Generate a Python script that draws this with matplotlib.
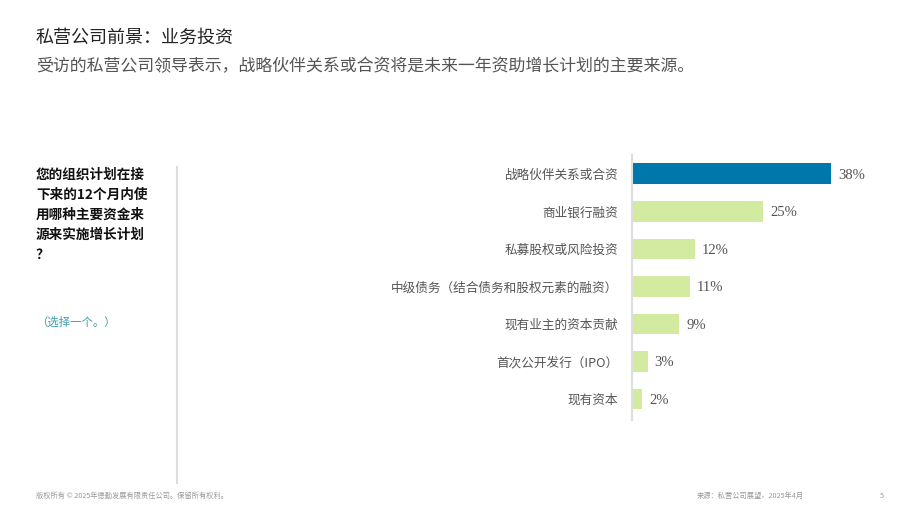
import matplotlib.pyplot as plt
from matplotlib.lines import Line2D

plt.rcParams['font.family'] = ['Noto Sans CJK SC', 'DejaVu Sans']

categories = ['战略伙伴关系或合资', '商业银行融资', '私募股权或风险投资',
              '中级债务（结合债务和股权元素的融资）', '现有业主的资本贡献',
              '首次公开发行（IPO）', '现有资本']
values = [38, 25, 12, 11, 9, 3, 2]
value_labels = ['38%', '25%', '12%', '11%', '9%', '3%', '2%']

title = '私营公司前景：业务投资'
subtitle = '受访的私营公司领导表示，战略伙伴关系或合资将是未来一年资助增长计划的主要来源。'
question = '您的组织计划在接\n下来的12个月内使\n用哪种主要资金来\n源来实施增长计划\n？'
note = '（选择一个。）'
footer_left = '版权所有 © 2025年德勤发展有限责任公司。保留所有权利。'
footer_right = '来源：私营公司展望，2025年4月'
page_no = '5'

W, H = 920, 518
fig = plt.figure(figsize=(W / 100, H / 100), dpi=100)

# titles
fig.text(36 / W, 1 - 38 / H, title, fontsize=13, color='#222222', va='center',
         weight='light')
fig.text(36 / W, 1 - 66 / H, subtitle, fontsize=12.2, color='#555555', va='center',
         weight='light')

# left question block
fig.text(36 / W, 1 - 168 / H, question, fontsize=9.8, weight='bold',
         color='#111111', va='top', linespacing=1.55)
fig.text(36 / W, 1 - 322 / H, note, fontsize=8.2, color='#3f9cb0', va='center',
         weight='light')

# separator line
fig.add_artist(Line2D([177 / W, 177 / W], [1 - 167 / H, 1 - 483 / H],
                      color='#dddddd', lw=1.5))

# bar chart
ax = fig.add_axes([632 / W, 1 - 420 / H, 248 / W, 265 / H])
colors = ['#0077aa'] + ['#d3eba1'] * (len(values) - 1)
y = list(range(len(categories)))
ax.barh(y, values, height=0.55, color=colors)
ax.set_xlim(0, 47.3)
ax.set_ylim(6.56, -0.5)
ax.set_yticks(y)
ax.set_yticklabels(categories, fontsize=9.1, color='#555555', weight='light')
ax.tick_params(axis='y', length=0, pad=10)
ax.set_xticks([])
for s in ['top', 'right', 'bottom']:
    ax.spines[s].set_visible(False)
ax.spines['left'].set_color('#dddddd')
ax.spines['left'].set_linewidth(1.5)

for yi, v, lab in zip(y, values, value_labels):
    ax.annotate(lab, (v, yi), xytext=(5, -1), textcoords='offset points',
                va='center', ha='left', fontsize=10.5, color='#555555',
                family=['Liberation Serif', 'DejaVu Serif'])

# footer
fig.text(36 / W, 1 - 496 / H, footer_left, fontsize=5.2, color='#999999', va='center')
fig.text(697 / W, 1 - 496 / H, footer_right, fontsize=5.2, color='#999999', va='center')
fig.text(884 / W, 1 - 496 / H, page_no, fontsize=5.2, color='#999999', va='center', ha='right')

fig.savefig('out.png', dpi=100)
